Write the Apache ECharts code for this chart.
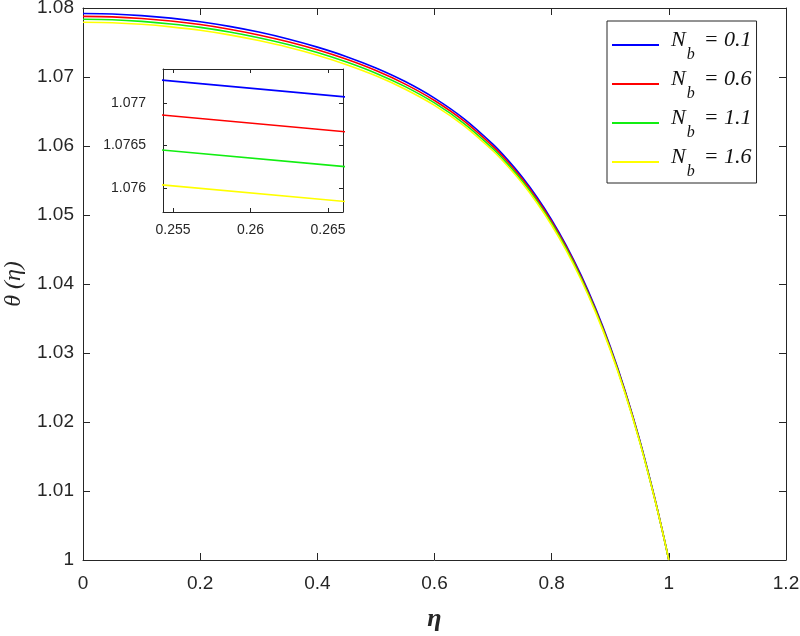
<!DOCTYPE html>
<html>
<head>
<meta charset="utf-8">
<title>theta(eta)</title>
<script src="https://cdn.jsdelivr.net/npm/echarts@6/dist/echarts.min.js"></script>
<style>
  html, body { margin: 0; padding: 0; background: #fff; }
  #main { width: 800px; height: 636px; }
</style>
</head>
<body>
<div id="main"></div>
<script>
// eta values (x axis), denser near the wall where the curves drop fast
var etaVals = [0, 0.05, 0.1, 0.15, 0.2, 0.25, 0.3, 0.35, 0.4, 0.45, 0.5, 0.55, 0.6, 0.65,
  0.7, 0.725, 0.75, 0.775, 0.8, 0.825, 0.85, 0.875, 0.9, 0.925, 0.95, 0.975, 0.99, 1];

// theta(eta) for each Nb
var thetaNb01 = [1.07920, 1.07913, 1.07890, 1.07853, 1.07801, 1.07734, 1.07651, 1.07551,
  1.07433, 1.07295, 1.07131, 1.06934, 1.06694, 1.06397, 1.06023, 1.05799, 1.05546,
  1.05257, 1.04930, 1.04557, 1.04131, 1.03646, 1.03093, 1.02462, 1.01746, 1.00928,
  1.00386, 1];
var thetaNb06 = [1.07878, 1.07871, 1.07848, 1.07811, 1.07760, 1.07693, 1.07610, 1.07511,
  1.07394, 1.07256, 1.07093, 1.06897, 1.06659, 1.06363, 1.05991, 1.05768, 1.05517,
  1.05229, 1.04904, 1.04533, 1.04109, 1.03627, 1.03077, 1.02449, 1.01737, 1.00923,
  1.00384, 1];
var thetaNb11 = [1.07836, 1.07829, 1.07806, 1.07769, 1.07719, 1.07652, 1.07569, 1.07471,
  1.07355, 1.07217, 1.07055, 1.06860, 1.06624, 1.06329, 1.05959, 1.05737, 1.05488,
  1.05201, 1.04878, 1.04509, 1.04087, 1.03608, 1.03061, 1.02436, 1.01728, 1.00918,
  1.00382, 1];
var thetaNb16 = [1.07794, 1.07787, 1.07764, 1.07727, 1.07678, 1.07611, 1.07528, 1.07431,
  1.07316, 1.07178, 1.07017, 1.06823, 1.06589, 1.06295, 1.05927, 1.05706, 1.05459,
  1.05173, 1.04852, 1.04485, 1.04065, 1.03589, 1.03045, 1.02423, 1.01719, 1.00913,
  1.00380, 1];

var nbLabels = ['0.1', '0.6', '1.1', '1.6'];
var lineColors = ['#0000ff', '#ff0000', '#11ee11', '#ffff00'];

// tick values of the inset
var insetXTicks = [0.255, 0.26, 0.265];
var insetYTicks = [1.076, 1.0765, 1.077];

var allTheta = [thetaNb01, thetaNb06, thetaNb11, thetaNb16];
var axisColor = '#262626';

function toPairs(ys) {
  var out = [];
  for (var i = 0; i < etaVals.length; i++) {
    out.push([etaVals[i], ys[i]]);
  }
  return out;
}

// a frame axis: only line + inner ticks, no labels
function frameAxis(pos, gridIndex, min, max, interval, custom) {
  var ax = {
    type: 'value', gridIndex: gridIndex, position: pos, min: min, max: max,
    axisLine: { show: true, onZero: false, lineStyle: { color: axisColor, width: 1 } },
    axisTick: { show: true, inside: true, length: gridIndex == 0 ? 7 : 4, lineStyle: { color: axisColor } },
    axisLabel: { show: false },
    splitLine: { show: false },
    z: gridIndex == 0 ? 0 : 5
  };
  if (interval) ax.interval = interval;
  if (custom) {
    ax.axisTick.customValues = custom;
    ax.axisLabel.customValues = custom;
  }
  return ax;
}

var series = [];
for (var k = 0; k < allTheta.length; k++) {
  var name = 'Nb = ' + nbLabels[k];
  series.push({
    name: name, type: 'line', xAxisIndex: 0, yAxisIndex: 0,
    data: toPairs(allTheta[k]), showSymbol: false, symbol: 'none', smooth: 0.25,
    lineStyle: { color: lineColors[k], width: 1.6 }, itemStyle: { color: lineColors[k] },
    z: 2 + k
  });
  // inset copy (same data, zoomed axes)
  series.push({
    name: name, type: 'line', xAxisIndex: 2, yAxisIndex: 2,
    data: toPairs(allTheta[k]), showSymbol: false, symbol: 'none', clip: true,
    lineStyle: { color: lineColors[k], width: 1.6 }, itemStyle: { color: lineColors[k] },
    z: 10
  });
}

var chart = echarts.init(document.getElementById('main'), null, { renderer: 'canvas' });

// main axes
var xMain = frameAxis('bottom', 0, 0, 1.2, 0.2);
xMain.axisLabel = { show: true, color: axisColor, fontSize: 19, fontFamily: 'Liberation Sans', margin: 14 };
xMain.name = 'η';
xMain.nameLocation = 'middle';
xMain.nameGap = 46;
xMain.nameTextStyle = { fontFamily: 'Liberation Serif', fontStyle: 'italic', fontWeight: 'bold', fontSize: 26, color: axisColor };

var yMain = frameAxis('left', 0, 1, 1.08, 0.01);
yMain.axisLabel = { show: true, color: axisColor, fontSize: 19, fontFamily: 'Liberation Sans', margin: 9 };
yMain.name = 'θ (η)';
yMain.nameLocation = 'middle';
yMain.nameGap = 54;
yMain.nameTextStyle = { fontFamily: 'Liberation Serif', fontStyle: 'italic', fontSize: 24, color: axisColor };

// inset axes
var xInset = frameAxis('bottom', 1, 0.25435, 0.26597, null, insetXTicks);
xInset.axisLabel = { show: true, customValues: insetXTicks, color: axisColor, fontSize: 14, fontFamily: 'Liberation Sans', margin: 11 };
var yInset = frameAxis('left', 1, 1.07572, 1.0774, null, insetYTicks);
yInset.axisLabel = { show: true, customValues: insetYTicks, color: axisColor, fontSize: 14, fontFamily: 'Liberation Sans', margin: 17 };

var option = {
  backgroundColor: '#fff',
  animation: false,
  grid: [
    { left: 83, right: 14, top: 8, bottom: 76, containLabel: false, outerBoundsMode: 'none' },
    { left: 163, top: 69, width: 180, height: 143, show: true, backgroundColor: '#fff', borderWidth: 0, z: 4, outerBoundsMode: 'none' }
  ],
  xAxis: [
    xMain,
    frameAxis('top', 0, 0, 1.2, 0.2),
    xInset,
    frameAxis('top', 1, 0.25435, 0.26597, null, insetXTicks)
  ],
  yAxis: [
    yMain,
    frameAxis('right', 0, 1, 1.08, 0.01),
    yInset,
    frameAxis('right', 1, 1.07572, 1.0774, null, insetYTicks)
  ],
  legend: {
    orient: 'vertical',
    left: 607, top: 21,
    padding: [6, 5, 3, 5],
    itemGap: 3,
    itemWidth: 47, itemHeight: 2,
    icon: 'rect',
    borderColor: axisColor, borderWidth: 1,
    backgroundColor: '#fff',
    data: series.filter(function(s, i) { return i % 2 == 0; }).map(function(s) { return s.name; }),
    formatter: function(name) {
      return '{n|N}{s|b}{t|= ' + name.split('= ')[1] + '}';
    },
    textStyle: {
      color: '#111',
      rich: {
        n: { fontFamily: 'Liberation Serif', fontStyle: 'italic', fontSize: 22, lineHeight: 22, padding: [0, 0, 10, 7] },
        s: { fontFamily: 'Liberation Serif', fontStyle: 'italic', fontSize: 16, lineHeight: 16, padding: [20, 9, 0, 1] },
        t: { fontFamily: 'Liberation Serif', fontStyle: 'italic', fontSize: 22, lineHeight: 22, padding: [0, 0, 10, 0] }
      }
    }
  },
  series: series
};

chart.setOption(option);
</script>
</body>
</html>
